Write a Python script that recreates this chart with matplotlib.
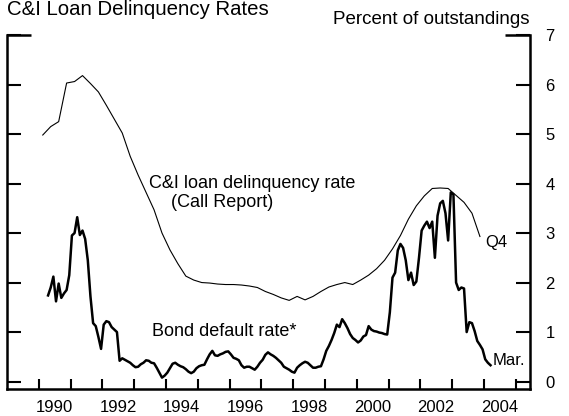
import numpy as np
import matplotlib
matplotlib.use("Agg")
import matplotlib.pyplot as plt

plt.rcParams['font.family'] = ['Liberation Sans', 'DejaVu Sans']

# C&I loan delinquency rate (Call Report), quarterly, 1990Q1 - 2003Q4
delinq_start = 1990
delinq = [4.98, 5.15, 5.25, 6.03,
          6.06, 6.18, 6.02, 5.85,
          5.58, 5.30, 5.02, 4.55,
          4.17, 3.82, 3.47, 3.00,
          2.66, 2.38, 2.13, 2.05,
          2.00, 1.99, 1.97, 1.96,
          1.96, 1.95, 1.93, 1.90,
          1.82, 1.76, 1.69, 1.64,
          1.72, 1.65, 1.72, 1.82,
          1.91, 1.96, 2.00, 1.96,
          2.05, 2.15, 2.28, 2.45,
          2.68, 2.95, 3.28, 3.55,
          3.75, 3.90, 3.91, 3.90,
          3.76, 3.62, 3.40, 2.93]

# Bond default rate, monthly, Apr 1990 - Mar 2004
bond_start = (1990, 4)
bond = [1.74, 1.90, 2.12, 1.62, 1.98, 1.69, 1.78, 1.85, 2.15,                 # 1990 Apr-Dec
        2.95, 3.00, 3.32, 2.96, 3.05, 2.88, 2.45, 1.72, 1.18, 1.12, 0.90, 0.66,  # 1991
        1.15, 1.22, 1.20, 1.10, 1.05, 1.00, 0.42, 0.47, 0.44, 0.41, 0.38, 0.33,  # 1992
        0.29, 0.30, 0.35, 0.38, 0.43, 0.42, 0.38, 0.37, 0.28, 0.18, 0.08, 0.12,  # 1993
        0.18, 0.27, 0.36, 0.38, 0.34, 0.31, 0.29, 0.25, 0.20, 0.17, 0.20, 0.27,  # 1994
        0.31, 0.33, 0.34, 0.45, 0.55, 0.62, 0.53, 0.52, 0.55, 0.57, 0.60, 0.61,  # 1995
        0.55, 0.48, 0.46, 0.43, 0.33, 0.28, 0.30, 0.30, 0.27, 0.24, 0.30, 0.38,  # 1996
        0.44, 0.54, 0.59, 0.55, 0.52, 0.48, 0.43, 0.38, 0.30, 0.27, 0.24, 0.20,  # 1997
        0.18, 0.28, 0.33, 0.37, 0.40, 0.38, 0.33, 0.28, 0.28, 0.30, 0.31, 0.45,  # 1998
        0.62, 0.72, 0.84, 0.98, 1.15, 1.10, 1.26, 1.18, 1.08, 0.96, 0.88, 0.84,  # 1999
        0.79, 0.83, 0.91, 0.94, 1.12, 1.05, 1.02, 1.01, 0.99, 0.98, 0.96, 0.95,  # 2000
        1.40, 2.10, 2.20, 2.65, 2.78, 2.70, 2.45, 2.05, 2.20, 1.95, 2.02, 2.50,  # 2001
        3.05, 3.15, 3.23, 3.10, 3.23, 2.50, 3.35, 3.60, 3.65, 3.40, 2.85, 3.82,  # 2002
        3.78, 2.00, 1.85, 1.90, 1.88, 1.00, 1.20, 1.18, 1.02, 0.82, 0.74, 0.65,  # 2003
        0.45, 0.38, 0.33]                                                        # 2004 Jan-Mar

year_ticks = list(range(1990, 2006))
year_labels = [str(y) for y in range(1990, 2005, 2)]
y_ticks = list(range(0, 8))

# time axes: mid-quarter / mid-month
tq = delinq_start + (np.arange(len(delinq)) + 0.5) / 4
tm = bond_start[0] + (bond_start[1] - 1 + np.arange(len(bond)) + 0.5) / 12

fig = plt.figure(figsize=(5.69, 4.16), dpi=100)
ax = fig.add_axes([7/569, 27/416, 523/569, 354/416])

ax.plot(tq, delinq, color='black', lw=0.8)
ax.plot(tm, bond, color='black', lw=1.8)

ax.set_xlim(1989.0, 2005.45)
ax.set_ylim(-0.15, 7.0)

for s in ['left', 'right', 'bottom']:
    ax.spines[s].set_linewidth(1.8)
ax.spines['top'].set_visible(False)

# years: ticks at year boundaries, labels centred in the year
ax.set_xticks(year_ticks)
ax.set_xticklabels([])
ax.set_xticks([int(l) + 0.5 for l in year_labels], minor=True)
ax.set_xticklabels(year_labels, minor=True)
ax.tick_params(axis='x', which='major', direction='in', length=7, width=1.5)
ax.tick_params(axis='x', which='minor', length=0, pad=8, labelsize=12)

ax.set_yticks(y_ticks)
ax.tick_params(axis='y', direction='in', length=10, width=1.5, left=True, right=True,
               labelleft=False, labelright=True, pad=11, labelsize=12)

# corner stubs along the top
ax.plot([0, 0.045], [1, 1], transform=ax.transAxes, color='black', lw=1.8, clip_on=False,
        solid_capstyle='butt')
ax.plot([0.953, 1], [1, 1], transform=ax.transAxes, color='black', lw=1.8, clip_on=False,
        solid_capstyle='butt')

fig.text(7/569, 1 - 15/416, 'C&I Loan Delinquency Rates', fontsize=14.7, ha='left', va='baseline')
fig.text(333/569, 1 - 24/416, 'Percent of outstandings', fontsize=13.5, ha='left', va='baseline')

ax.text(1993.48, 4.01, 'C&I loan delinquency rate', fontsize=13, ha='left', va='center')
ax.text(1994.17, 3.61, '(Call Report)', fontsize=13, ha='left', va='center')
ax.text(1993.56, 1.01, 'Bond default rate*', fontsize=13, ha='left', va='center')
ax.text(2004.03, 2.8, 'Q4', fontsize=12, ha='left', va='center')
ax.text(2004.28, 0.42, 'Mar.', fontsize=12, ha='left', va='center')

fig.savefig('out.png', dpi=100)
